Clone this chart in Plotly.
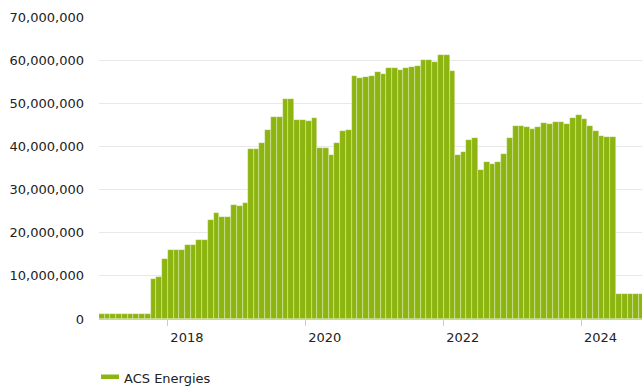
import calendar
import pandas as pd
import plotly.graph_objects as go

# Monthly series, Jan 2017 .. Nov 2024
start_month = "2017-01-01"
series_name = "ACS Energies"
values = [
    # 2017
    1_250_000, 1_250_000, 1_250_000, 1_250_000, 1_250_000, 1_250_000,
    1_250_000, 1_250_000, 1_250_000, 9_200_000, 9_800_000, 14_000_000,
    # 2018
    15_900_000, 15_900_000, 15_900_000, 17_100_000, 17_100_000, 18_200_000,
    18_200_000, 22_900_000, 24_600_000, 23_700_000, 23_700_000, 26_500_000,
    # 2019
    26_300_000, 26_900_000, 39_300_000, 39_300_000, 40_800_000, 43_800_000,
    46_900_000, 46_900_000, 51_100_000, 51_100_000, 46_100_000, 46_100_000,
    # 2020
    46_000_000, 46_600_000, 39_700_000, 39_700_000, 38_000_000, 40_700_000,
    43_500_000, 43_800_000, 56_400_000, 55_900_000, 56_100_000, 56_400_000,
    # 2021
    57_300_000, 56_900_000, 58_100_000, 58_100_000, 57_800_000, 58_100_000,
    58_400_000, 58_600_000, 60_000_000, 60_000_000, 59_500_000, 61_200_000,
    # 2022
    61_200_000, 57_500_000, 38_000_000, 38_800_000, 41_600_000, 41_900_000,
    34_600_000, 36_500_000, 36_000_000, 36_500_000, 38_200_000, 41_900_000,
    # 2023
    44_700_000, 44_700_000, 44_400_000, 44_100_000, 44_400_000, 45_500_000,
    45_200_000, 45_700_000, 45_700_000, 45_200_000, 46_600_000, 47_200_000,
    # 2024
    46_400_000, 44_700_000, 43_600_000, 42_400_000, 42_200_000, 42_200_000,
    5_900_000, 5_900_000, 5_900_000, 5_900_000, 5_900_000,
]
y_ticks = [0, 10_000_000, 20_000_000, 30_000_000, 40_000_000,
           50_000_000, 60_000_000, 70_000_000]
x_ticks = ["2018-01-01", "2020-01-01", "2022-01-01", "2024-01-01"]
x_tick_text = ["2018", "2020", "2022", "2024"]

months = pd.date_range(start_month, periods=len(values), freq="MS")
# each column spans its whole calendar month
widths = [calendar.monthrange(d.year, d.month)[1] * 86_400_000 for d in months]

BAR = "#8db510"
FONT = "DejaVu Sans, Verdana, sans-serif"
W, H = 642, 387
ML, MR, MT, MB = 98.5, 0, 17, 68

fig = go.Figure(
    go.Bar(
        x=months,
        y=values,
        width=widths,
        offset=0,
        name=series_name,
        marker=dict(color=BAR, line=dict(color="rgba(255,255,255,0.5)", width=0.6)),
        showlegend=False,
        hovertemplate="%{x|%b %Y}: %{y:,}<extra></extra>",
    )
)

fig.update_layout(
    width=W,
    height=H,
    margin=dict(l=ML, r=MR, t=MT, b=MB, pad=0),
    paper_bgcolor="white",
    plot_bgcolor="white",
    bargap=0,
    font=dict(family=FONT, size=13, color="#333333"),
    xaxis=dict(
        type="date",
        range=["2017-01-01", "2024-11-16"],
        tickvals=x_ticks,
        ticktext=x_tick_text,
        ticks="outside",
        ticklen=6,
        tickwidth=1,
        tickcolor="#cccccc",
        showline=True,
        linecolor="#cccccc",
        linewidth=1,
        showgrid=False,
        zeroline=False,
        ticklabelshift=19,
        ticklabelstandoff=0,
        tickfont=dict(family=FONT, size=13, color="#222222"),
    ),
    yaxis=dict(
        range=[0, 70_000_000],
        tickvals=y_ticks,
        tickformat=",d",
        showgrid=True,
        gridcolor="#e8e8e8",
        gridwidth=1,
        zeroline=False,
        showline=False,
        ticks="",
        ticklabelstandoff=14,
        tickfont=dict(family=FONT, size=13, color="#222222"),
    ),
)

# legend entry: flat swatch followed by the series name
pw = W - ML - MR
ph = H - MT - MB
def px_x(x):
    return (x - ML) / pw
def px_y(y):
    return (H - MB - y) / ph

fig.add_shape(
    type="rect", xref="paper", yref="paper",
    x0=px_x(100.5), x1=px_x(118.5), y0=px_y(379), y1=px_y(374.5),
    fillcolor=BAR, line=dict(width=0),
)
fig.add_annotation(
    xref="paper", yref="paper",
    x=px_x(122), y=px_y(378),
    xanchor="left", yanchor="middle",
    text=series_name, showarrow=False,
    font=dict(family=FONT, size=13, color="#222222"),
)

fig.write_html("out.html")
